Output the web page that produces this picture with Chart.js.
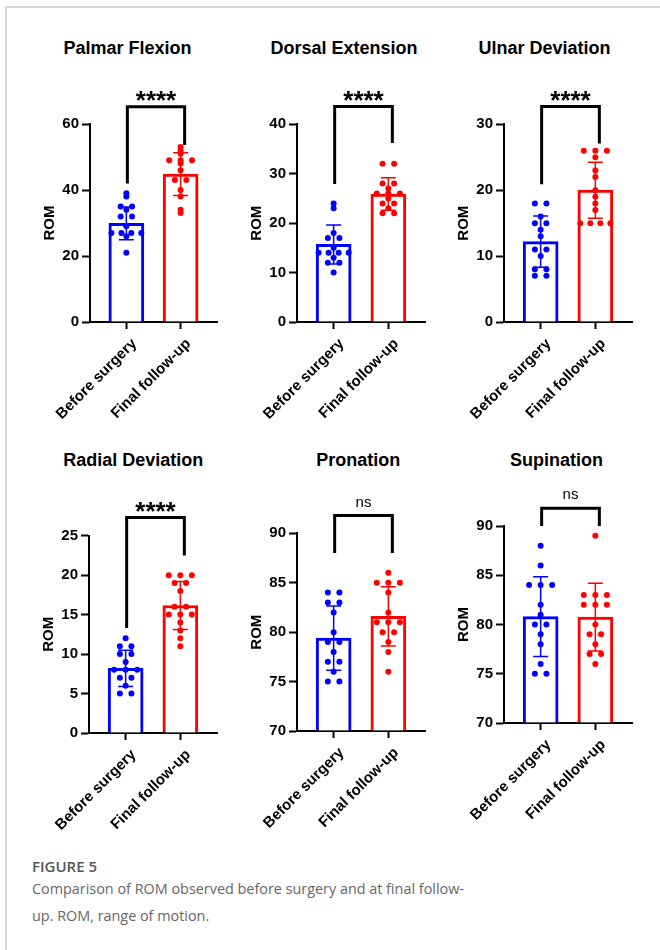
<!DOCTYPE html>
<html>
<head>
<meta charset="utf-8">
<script src="https://cdn.jsdelivr.net/npm/chart.js@4.4.1/dist/chart.umd.min.js"></script>
<style>
  html, body { margin: 0; padding: 0; background: #fff; }
  body { width: 660px; height: 950px; position: relative; overflow: hidden;
         font-family: 'Liberation Sans', Arial, sans-serif; }
  .frame { position: absolute; left: 5px; top: 6px; width: 700px; height: 1000px;
           border-left: 2px solid #d8d8d8; border-top: 2px solid #d8d8d8; }
  .ttl { position: absolute; width: 240px; margin-left: -120px; text-align: center;
         font-weight: bold; font-size: 18px; line-height: 20px; color: #000; white-space: nowrap; }
  canvas { position: absolute; }
  .cap { position: absolute; left: 32px; font-family: 'Open Sans', sans-serif; font-size: 14.4px;
         line-height: 26px; color: #666; white-space: nowrap; }
  .fig { font-weight: 600; color: #555; font-size: 15px; }
</style>
</head>
<body>
<div class="frame"></div>
<div id="panels"></div>
<div class="cap fig" style="top:853px">FIGURE 5</div>
<div class="cap" style="top:876px">Comparison of ROM observed before surgery and at final follow-</div>
<div class="cap" style="top:903px">up. ROM, range of motion.</div>

<script>
// ── Data ──────────────────────────────────────────────
const GROUPS = ['Before surgery', 'Final follow-up'];
const TITLES = ['Palmar Flexion', 'Dorsal Extension', 'Ulnar Deviation',
                'Radial Deviation', 'Pronation', 'Supination'];

// individual patients (dots)
const palmarBefore    = [39, 38, 35, 35, 34, 32, 32, 29, 27, 27, 27, 27, 26, 21];
const palmarFinal     = [53, 52, 51, 49, 49, 49, 48, 46, 43, 43, 40, 38, 34, 33];
const dorsalBefore    = [24, 23, 18, 17, 17, 15, 14, 14, 14, 14, 13, 12, 12, 10];
const dorsalFinal     = [32, 32, 28, 28, 27, 26, 26, 26, 25, 24, 24, 23, 22, 22];
const ulnarBefore     = [18, 18, 16, 15, 15, 14, 13, 11, 11, 10, 8, 8, 7, 7];
const ulnarFinal      = [26, 26, 26, 25, 23, 22, 20, 19, 18, 17, 15, 15, 15, 15];
const radialBefore    = [12, 11, 11, 10, 10, 9, 8, 8, 8, 7, 7, 6, 5, 5];
const radialFinal     = [20, 20, 20, 19, 19, 18, 16, 16, 15, 15, 15, 14, 13, 12, 11];
const pronationBefore = [84, 84, 83, 83, 82, 80, 79, 79, 78, 77, 77, 76, 75, 75];
const pronationFinal  = [86, 85, 85, 85, 84, 82, 81, 81, 81, 80, 80, 79, 78, 76];
const supinationBefore = [88, 86, 84, 84, 84, 82, 81, 80, 80, 79, 78, 76, 75, 75];
const supinationFinal  = [89, 83, 83, 83, 82, 82, 82, 80, 79, 79, 78, 77, 77, 76];

const BEFORE = [palmarBefore, dorsalBefore, ulnarBefore, radialBefore, pronationBefore, supinationBefore];
const FINAL  = [palmarFinal, dorsalFinal, ulnarFinal, radialFinal, pronationFinal, supinationFinal];

// bar height (mean) and error bar (SD): [before, final]
const MEANS = [[29.9, 44.8], [15.7, 25.9], [12.2, 20.0], [8.2, 16.15], [79.4, 81.6], [80.8, 80.75]];
const SDS   = [[4.95, 6.5],  [3.95, 3.3],  [3.9, 4.25],  [2.3, 3.05],  [3.25, 3.0],  [4.05, 3.45]];

// y axes
const Y_MIN  = [0, 0, 0, 0, 70, 70];
const Y_MAX  = [60, 40, 30, 25, 90, 90];
const Y_STEP = [20, 10, 10, 5, 5, 5];

// significance brackets (data units): top, left leg end, right leg end
const BRACKET_TOP   = [65.2, 43.6, 32.7, 27.3, 91.8, 91.8];
const BRACKET_LEFT  = [42, 27.9, 20.9, 13.3, 88, 90];
const BRACKET_RIGHT = [53.6, 36.2, 27.1, 22.5, 88, 90];
const SIG = ['****', '****', '****', '****', 'ns', 'ns'];

// ── Layout (pixels) ───────────────────────────────────
const COLORS = ['#0000ff', '#ff0000'];
const AREAS = [
  { left: 90,    right: 217, top: 124,   bottom: 322,   canvasTop: 70 },
  { left: 297,   right: 425, top: 124.3, bottom: 321.7, canvasTop: 70 },
  { left: 504,   right: 632, top: 124.3, bottom: 321.7, canvasTop: 70 },
  { left: 89.3,  right: 217, top: 535.7, bottom: 733.3, canvasTop: 480 },
  { left: 296.7, right: 425, top: 533.3, bottom: 731,   canvasTop: 480 },
  { left: 504,   right: 632, top: 526,   bottom: 723.3, canvasTop: 480 },
];
const TITLE_POS = [[127.5, 38], [344, 38], [544.5, 38], [133.3, 449.6], [358.3, 449.6], [556.5, 449.6]];
const Y_AXIS_W = 49;
const X_AXIS_H = 100;
const PX_PER_X = 54.5;      // x scale runs -0.67 .. 1.67
const FONT = "'Liberation Sans', Arial, sans-serif";

Chart.defaults.font.family = FONT;
Chart.defaults.color = '#000';

// ── Dot spread: equal values side by side ─────────────
function swarm(values, group) {
  const counts = {}, seen = {};
  values.forEach(v => counts[v] = (counts[v] || 0) + 1);
  return values.map(v => {
    const n = counts[v];
    const i = seen[v] = (seen[v] === undefined ? 0 : seen[v] + 1);
    const step = n > 1 ? Math.min(11.5, 30 / (n - 1)) : 0;
    return { x: group + (i - (n - 1) / 2) * step / PX_PER_X, y: v };
  });
}

// ── Error bars, brackets, significance ────────────────
const romMarks = {
  id: 'romMarks',
  afterDatasetDraw(chart, args, o) {
    if (args.meta.type !== 'bar') return;
    const { ctx, scales: { x, y } } = chart;
    ctx.save();
    ctx.lineWidth = 1.5;
    o.mean.forEach((m, g) => {
      const cx  = x.getPixelForValue(g);
      const top = y.getPixelForValue(m + o.sd[g]);
      const bot = y.getPixelForValue(m - o.sd[g]);
      ctx.strokeStyle = COLORS[g];
      ctx.beginPath();
      ctx.moveTo(cx, top);       ctx.lineTo(cx, bot);
      ctx.moveTo(cx - 7.5, top); ctx.lineTo(cx + 7.5, top);
      ctx.moveTo(cx - 7.5, bot); ctx.lineTo(cx + 7.5, bot);
      ctx.stroke();
    });
    ctx.restore();
  },
  afterDraw(chart, args, o) {
    const { ctx, scales: { x, y } } = chart;
    const x0 = x.getPixelForValue(0) + 1;
    const x1 = x.getPixelForValue(1) + 4;
    const yt = y.getPixelForValue(o.top);
    ctx.save();
    ctx.strokeStyle = '#000';
    ctx.lineWidth = 3;
    ctx.beginPath();
    ctx.moveTo(x0, y.getPixelForValue(o.left));
    ctx.lineTo(x0, yt);
    ctx.lineTo(x1, yt);
    ctx.lineTo(x1, y.getPixelForValue(o.right));
    ctx.stroke();
    const stars = o.sig !== 'ns';
    ctx.fillStyle = '#000';
    ctx.textAlign = 'center';
    ctx.textBaseline = 'alphabetic';
    ctx.font = stars ? `bold 26px ${FONT}` : `15px ${FONT}`;
    ctx.fillText(o.sig, (x0 + x1) / 2, stars ? yt + 2 : yt - 9);
    ctx.restore();
  }
};

// ── Build panels ──────────────────────────────────────
const host = document.getElementById('panels');

TITLES.forEach((title, p) => {
  const a = AREAS[p];
  const t = document.createElement('div');
  t.className = 'ttl';
  t.textContent = title;
  t.style.left = TITLE_POS[p][0] + 'px';
  t.style.top  = TITLE_POS[p][1] + 'px';
  host.appendChild(t);

  const L = a.left - Y_AXIS_W;
  const W = Math.round(a.right - L + 6);
  const H = Math.round(a.bottom + X_AXIS_H - a.canvasTop);
  const canvas = document.createElement('canvas');
  canvas.width = W; canvas.height = H;
  canvas.style.left = L + 'px';
  canvas.style.top  = a.canvasTop + 'px';
  host.appendChild(canvas);

  new Chart(canvas, {
    type: 'bar',
    data: {
      datasets: [
        { type: 'scatter', data: swarm(BEFORE[p], 0), backgroundColor: COLORS[0],
          pointRadius: 3, pointBorderWidth: 0, order: 1, clip: false },
        { type: 'scatter', data: swarm(FINAL[p], 1), backgroundColor: COLORS[1],
          pointRadius: 3, pointBorderWidth: 0, order: 1, clip: false },
        { type: 'bar', data: [{ x: 0, y: MEANS[p][0] }, { x: 1, y: MEANS[p][1] }],
          backgroundColor: '#fff', borderColor: COLORS, borderWidth: 3,
          borderSkipped: 'start', barThickness: 35, base: Y_MIN[p], order: 2 },
      ]
    },
    options: {
      responsive: false,
      animation: false,
      events: [],
      layout: { padding: { top: a.top - a.canvasTop, right: 6, left: 0, bottom: 0 } },
      plugins: {
        legend:  { display: false },
        tooltip: { enabled: false },
        romMarks: { mean: MEANS[p], sd: SDS[p], top: BRACKET_TOP[p],
                    left: BRACKET_LEFT[p], right: BRACKET_RIGHT[p], sig: SIG[p] },
      },
      scales: {
        x: {
          type: 'linear', min: -0.67, max: 1.67, bounds: 'data', offset: false,
          afterBuildTicks: s => { s.ticks = [{ value: 0 }, { value: 1 }]; },
          afterFit: s => { s.height = X_AXIS_H; s.paddingLeft = 0; s.paddingRight = 0; },
          grid:   { drawOnChartArea: false, drawTicks: true, tickLength: 7, tickWidth: 2,
                    tickColor: '#000', offset: false },
          border: { color: '#000', width: 2 },
          ticks:  { callback: v => GROUPS[v], minRotation: 45, maxRotation: 45, autoSkip: false,
                    padding: 6, labelOffset: 8, color: '#000',
                    font: { size: 15, weight: 'bold' } },
        },
        y: {
          min: Y_MIN[p], max: Y_MAX[p], beginAtZero: false,
          afterFit: s => { s.width = Y_AXIS_W; },
          ticks:  { stepSize: Y_STEP[p], padding: 3, color: '#000',
                    font: { size: 15, weight: 'bold' } },
          grid:   { drawOnChartArea: false, tickLength: 8, tickWidth: 2, tickColor: '#000' },
          border: { color: '#000', width: 2 },
          title:  { display: true, text: 'ROM', color: '#000', padding: 0,
                    font: { size: 15, weight: 'bold' } },
        }
      }
    },
    plugins: [romMarks]
  });
});
</script>
</body>
</html>
